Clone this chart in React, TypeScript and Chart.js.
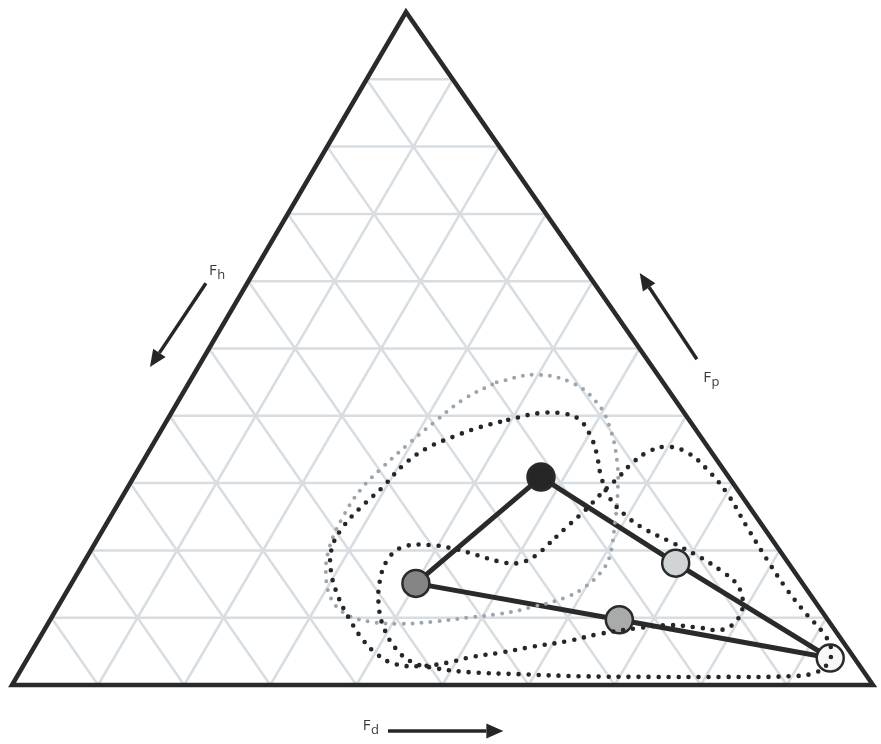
import { useEffect, useRef } from "react";
import { Chart, registerables } from "chart.js";

Chart.register(...registerables);

// Ternary (Teas) diagram: Fd grows to the bottom-right corner, Fp to the apex,
// Fh to the bottom-left corner. Values are percentages (Fd + Fp + Fh = 100).

// Horizontal offset of the apex per unit of Fp (apex sits a little left of centre).
const SKEW = 0.4576;

const GRID_TICKS = [10, 20, 30, 40, 50, 60, 70, 80, 90];

// Samples (Fd, Fp)
const SAMPLE_FD = [47.3, 40.0, 66.1, 68.8, 93.2];
const SAMPLE_FP = [30.9, 15.1, 9.7, 18.1, 4.0];
const SAMPLE_FILL = ["#262626", "#858585", "#a9abab", "#d0d4d6", "#f7f7f7"];

// Sample indices joined by solid tie lines
const TIE_LINES = [
  [0, 1],
  [1, 2, 4],
  [0, 3, 4],
];

// Solubility regions (closed outlines)
const ZONE_LIGHT_FD = [35.7, 39.7, 44.5, 48.8, 51.9, 55.2, 57.3, 59.0, 60.7, 60.7, 59.9, 58.5, 55.2, 51.9, 48.3, 44.6, 40.9, 37.3, 34.2, 31.4, 29.0, 27.5, 27.0, 27.2, 28.1, 29.6, 31.1, 33.0];
const ZONE_LIGHT_FP = [45.0, 46.1, 44.9, 41.9, 38.3, 33.0, 28.5, 24.1, 19.0, 16.6, 14.6, 13.1, 11.6, 10.6, 10.0, 9.4, 9.1, 9.4, 10.4, 12.6, 16.3, 20.5, 25.0, 29.0, 32.0, 35.7, 38.9, 42.4];

const ZONE_WIDE_FD = [39.6, 42.8, 45.8, 47.9, 50.1, 52.1, 54.1, 56.7, 60.0, 63.2, 66.7, 71.2, 74.7, 77.4, 79.3, 79.8, 78.7, 76.0, 72.3, 69.1, 64.8, 61.5, 57.9, 54.5, 51.6, 49.0, 46.1, 43.1, 40.4, 37.7, 34.8, 31.9, 29.2, 27.8, 27.7, 28.4, 29.6, 30.5, 32.1, 34.4, 36.8];
const ZONE_WIDE_FP = [39.4, 40.4, 40.3, 39.4, 37.2, 34.5, 31.2, 27.8, 25.0, 23.0, 21.3, 19.0, 16.9, 14.9, 12.2, 9.7, 8.2, 8.5, 8.9, 8.5, 7.6, 6.5, 5.7, 4.8, 4.2, 3.3, 2.8, 3.1, 4.5, 6.7, 9.7, 13.1, 17.1, 20.5, 23.5, 26.3, 29.4, 32.7, 35.2, 36.9, 38.3];

const ZONE_LOW_FD = [52.8, 52.0, 50.5, 48.0, 45.2, 42.2, 39.0, 36.0, 35.1, 35.7, 37.3, 39.3, 42.0, 44.9, 48.0, 52.3, 58.3, 65.4, 73.6, 81.7, 89.7, 92.4, 93.3, 92.6, 90.5, 87.6, 83.6, 79.2, 74.6, 70.1, 66.0, 62.7, 60.0, 58.2, 57.0, 56.3, 55.5, 54.7, 53.7];
const ZONE_LOW_FP = [21.1, 19.2, 18.1, 18.4, 19.3, 20.2, 20.8, 20.5, 18.6, 15.3, 11.6, 8.5, 5.5, 3.4, 2.5, 1.9, 1.6, 1.3, 1.2, 1.2, 1.3, 1.8, 3.3, 5.5, 7.9, 10.4, 14.1, 18.6, 23.5, 28.4, 32.1, 34.5, 35.4, 34.8, 33.1, 30.8, 28.7, 26.0, 23.5];

// ternary (Fd, Fp) -> cartesian chart coordinates
const pt = (d: number, p: number) => ({ x: d + SKEW * p, y: p });

const closedPath = (fd: number[], fp: number[]) => {
  const pts = fd.map((d, i) => pt(d, fp[i]));
  pts.push(pts[0]);
  return pts;
};

const FONT = '"Open Sans", "Liberation Sans", sans-serif';

// axis arrows and labels, placed in ternary coordinates just outside the edges
const annotationPlugin = {
  id: "ternaryAnnotations",
  afterDatasetsDraw(chart: any) {
    const { ctx, scales } = chart;
    const xs = scales.x;
    const ys = scales.y;
    const px = (d: number, p: number) => [xs.getPixelForValue(d + SKEW * p), ys.getPixelForValue(p)];

    const arrow = (from: number[], to: number[]) => {
      const [x0, y0] = px(from[0], from[1]);
      const [x1, y1] = px(to[0], to[1]);
      const ang = Math.atan2(y1 - y0, x1 - x0);
      const head = 17;
      const half = 7.5;
      const bx = x1 - head * Math.cos(ang);
      const by = y1 - head * Math.sin(ang);
      ctx.save();
      ctx.strokeStyle = "#262626";
      ctx.fillStyle = "#262626";
      ctx.lineWidth = 3.5;
      ctx.beginPath();
      ctx.moveTo(x0, y0);
      ctx.lineTo(bx, by);
      ctx.stroke();
      ctx.beginPath();
      ctx.moveTo(x1, y1);
      ctx.lineTo(bx + half * Math.sin(ang), by - half * Math.cos(ang));
      ctx.lineTo(bx - half * Math.sin(ang), by + half * Math.cos(ang));
      ctx.closePath();
      ctx.fill();
      ctx.restore();
    };

    const label = (sub: string, at: number[]) => {
      const [x, y] = px(at[0], at[1]);
      ctx.save();
      ctx.fillStyle = "#3a3a3a";
      ctx.textAlign = "left";
      ctx.textBaseline = "alphabetic";
      ctx.font = `15px ${FONT}`;
      ctx.fillText("F", x, y);
      const w = ctx.measureText("F").width;
      ctx.font = `13px ${FONT}`;
      ctx.fillText(sub, x + w + 0.5, y + 4);
      ctx.restore();
    };

    arrow([-4.8, 59.7], [-5.6, 47.25]);
    label("h", [-5.0, 60.9]);

    arrow([57.4, 48.4], [44.9, 61.2]);
    label("p", [59.7, 45.0]);

    arrow([46.8, -6.84], [60.2, -6.84]);
    label("d", [43.8, -6.69]);
  },
};

const whiteBackground = {
  id: "whiteBackground",
  beforeDraw(chart: any) {
    const { ctx, width, height } = chart;
    ctx.save();
    ctx.fillStyle = "#ffffff";
    ctx.fillRect(0, 0, width, height);
    ctx.restore();
  },
};

export default function App() {
  const canvasRef = useRef<HTMLCanvasElement | null>(null);

  useEffect(() => {
    if (!canvasRef.current) return;

    const base = { pointRadius: 0, showLine: true, fill: false, clip: false as any };

    const zones = [
      { fd: ZONE_WIDE_FD, fp: ZONE_WIDE_FP, color: "#262626", width: 4.6, gap: 10 },
      { fd: ZONE_LOW_FD, fp: ZONE_LOW_FP, color: "#262626", width: 4.6, gap: 10 },
      { fd: ZONE_LIGHT_FD, fp: ZONE_LIGHT_FP, color: "#9da5ac", width: 4, gap: 9 },
    ].map((z) => ({
      ...base,
      data: closedPath(z.fd, z.fp),
      borderColor: z.color,
      borderWidth: z.width,
      borderDash: [0, z.gap],
      borderCapStyle: "round" as const,
      tension: 0.4,
    }));

    const samples = {
      data: SAMPLE_FD.map((d, i) => pt(d, SAMPLE_FP[i])),
      showLine: false,
      pointRadius: 13.5,
      pointBackgroundColor: SAMPLE_FILL,
      pointBorderColor: "#2a2a2a",
      pointBorderWidth: 2.5,
      clip: false as any,
    };

    const ties = TIE_LINES.map((idx) => ({
      ...base,
      data: idx.map((i) => pt(SAMPLE_FD[i], SAMPLE_FP[i])),
      borderColor: "#2a2a2a",
      borderWidth: 5,
      tension: 0,
    }));

    const outline = {
      ...base,
      data: [pt(0, 0), pt(100, 0), pt(0, 100), pt(0, 0), pt(100, 0)],
      borderColor: "#2a2a2a",
      borderWidth: 4.5,
      borderJoinStyle: "miter" as const,
      tension: 0,
    };

    const grid: any[] = [];
    GRID_TICKS.forEach((k) => {
      const segs = [
        [pt(0, k), pt(100 - k, k)], // constant Fp
        [pt(k, 0), pt(k, 100 - k)], // constant Fd
        [pt(100 - k, 0), pt(0, 100 - k)], // constant Fh
      ];
      segs.forEach((s) =>
        grid.push({
          ...base,
          data: s,
          borderColor: "#d6dde3",
          borderWidth: 2.5,
          tension: 0,
        })
      );
    });

    // first dataset is drawn on top
    const datasets = [...zones, samples, ...ties, outline, ...grid];

    const chart = new Chart(canvasRef.current, {
      type: "scatter",
      data: { datasets: datasets as any },
      options: {
        animation: false,
        responsive: false,
        events: [],
        layout: { autoPadding: false, padding: { left: 12, right: 8, top: 12, bottom: 59 } },
        scales: {
          x: { type: "linear", min: 0, max: 100, display: false },
          y: { type: "linear", min: 0, max: 100, display: false },
        },
        plugins: {
          legend: { display: false },
          tooltip: { enabled: false },
        },
      },
      plugins: [whiteBackground, annotationPlugin],
    });

    return () => chart.destroy();
  }, []);

  return (
    <div style={{ position: "absolute", left: 0, top: 0, width: 881, height: 744, background: "#fff" }}>
      <canvas ref={canvasRef} width={881} height={744} style={{ display: "block", width: 881, height: 744 }} />
    </div>
  );
}
